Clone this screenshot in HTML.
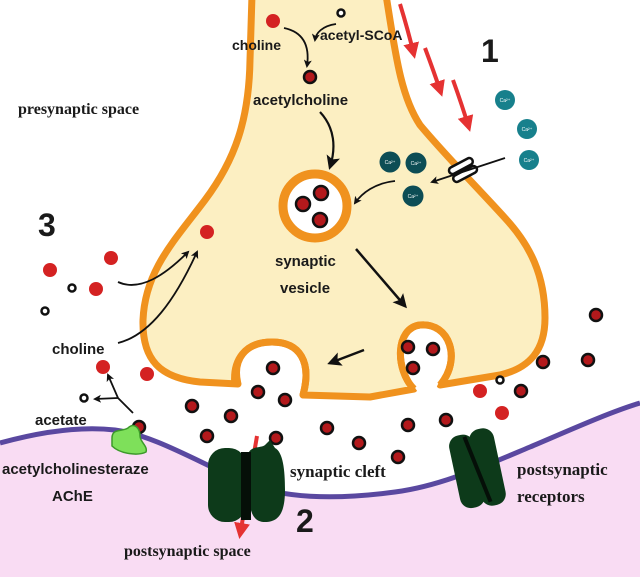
<!DOCTYPE html>
<html><head><meta charset="utf-8"><style>
html,body{margin:0;padding:0;background:#fff}
svg{display:block}
.s{font-family:"Liberation Sans",sans-serif;font-weight:bold;fill:#1a1a1a}
.r{font-family:"Liberation Serif",serif;font-weight:bold;fill:#1a1a1a}
</style></head><body>
<svg width="640" height="577" viewBox="0 0 640 577" xmlns="http://www.w3.org/2000/svg">
<defs>
<marker id="ah" markerWidth="8" markerHeight="8" refX="6" refY="4" orient="auto" markerUnits="userSpaceOnUse"><path d="M0,0 L8,4 L0,8 L2,4 Z" fill="#111"/></marker>
<marker id="ahb" markerWidth="14" markerHeight="14" refX="11" refY="7" orient="auto" markerUnits="userSpaceOnUse"><path d="M0,0 L14,7 L0,14 L3,7 Z" fill="#111"/></marker>
<marker id="ahr" markerWidth="16" markerHeight="16" refX="12" refY="8" orient="auto" markerUnits="userSpaceOnUse"><path d="M0,0 L16,8 L0,16 Z" fill="#e53232"/></marker>
</defs>
<rect width="640" height="577" fill="#fff"/>
<path d="M0,443 C40,432 80,426 115,430 C160,436 210,470 260,488 C300,500 350,498 395,492 C440,486 480,468 530,447 C570,430 610,412 640,403 L640,577 L0,577 Z" fill="#f9dcf3"/>
<path d="M0,443 C40,432 80,426 115,430 C160,436 210,470 260,488 C300,500 350,498 395,492 C440,486 480,468 530,447 C570,430 610,412 640,403" fill="none" stroke="#5a48a0" stroke-width="5"/>
<path d="M252,-5 L250,60 C249,120 235,160 205,200 C175,240 145,270 143,320 C142,360 160,378 200,382 L238,384 C232,360 245,342 272,342 C300,342 312,362 303,395 L370,397 L414,389 C395,370 395,328 420,325 C450,322 462,360 440,385 L500,375 C530,368 545,350 545,318 C545,275 530,245 505,218 C475,185 445,155 420,125 C400,95 395,50 386,-5 Z" fill="#fcefc2" stroke="#f0921e" stroke-width="7" stroke-linejoin="round"/>
<path d="M250,398 C242,380 248,352 272,350 C296,350 305,375 298,398 Z" fill="#fff"/>
<path d="M418,392 C402,372 404,334 421,333 C440,333 452,360 436,388 Z" fill="#fff"/>
<path d="M235,386 C232,360 245,342 272,342 C300,342 312,362 303,395" fill="none" stroke="#f0921e" stroke-width="7"/>
<path d="M414,389 C395,370 395,328 420,325 C450,322 462,360 440,385" fill="none" stroke="#f0921e" stroke-width="7"/>
<circle cx="315" cy="206" r="32" fill="#fff" stroke="#f0921e" stroke-width="9"/>
<g fill="#b3191c" stroke="#111" stroke-width="2.5">
<circle cx="303" cy="204" r="7"/><circle cx="321" cy="193" r="7"/><circle cx="320" cy="220" r="7"/>
<circle cx="310" cy="77" r="6"/>
<circle cx="273" cy="368" r="6"/><circle cx="258" cy="392" r="6"/><circle cx="285" cy="400" r="6"/>
<circle cx="192" cy="406" r="6"/><circle cx="231" cy="416" r="6"/><circle cx="207" cy="436" r="6"/><circle cx="276" cy="438" r="6"/>
<circle cx="327" cy="428" r="6"/><circle cx="359" cy="443" r="6"/><circle cx="398" cy="457" r="6"/><circle cx="408" cy="425" r="6"/><circle cx="446" cy="420" r="6"/>
<circle cx="408" cy="347" r="6"/><circle cx="433" cy="349" r="6"/><circle cx="413" cy="368" r="6"/>
<circle cx="543" cy="362" r="6"/><circle cx="521" cy="391" r="6"/><circle cx="596" cy="315" r="6"/><circle cx="588" cy="360" r="6"/>
<circle cx="139" cy="427" r="6"/>
</g>
<g fill="#d42222">
<circle cx="273" cy="21" r="7"/><circle cx="207" cy="232" r="7"/>
<circle cx="50" cy="270" r="7"/><circle cx="111" cy="258" r="7"/><circle cx="96" cy="289" r="7"/>
<circle cx="103" cy="367" r="7"/><circle cx="147" cy="374" r="7"/>
<circle cx="480" cy="391" r="7"/><circle cx="502" cy="413" r="7"/>
</g>
<g fill="#fff" stroke="#111" stroke-width="2.5">
<circle cx="341" cy="13" r="3.5"/><circle cx="72" cy="288" r="3.5"/><circle cx="45" cy="311" r="3.5"/><circle cx="84" cy="398" r="3.5"/><circle cx="500" cy="380" r="3.5"/>
</g>
<g font-family="Liberation Sans,sans-serif" font-size="5" fill="#fff" text-anchor="middle">
<circle cx="505" cy="100" r="10" fill="#17808c"/><text x="505" y="102">Ca²⁺</text>
<circle cx="527" cy="129" r="10" fill="#17808c"/><text x="527" y="131">Ca²⁺</text>
<circle cx="529" cy="160" r="10" fill="#17808c"/><text x="529" y="162">Ca²⁺</text>
<circle cx="390" cy="162" r="10.5" fill="#0d4d55"/><text x="390" y="164">Ca²⁺</text>
<circle cx="416" cy="163" r="10.5" fill="#0d4d55"/><text x="416" y="165">Ca²⁺</text>
<circle cx="413" cy="196" r="10.5" fill="#0d4d55"/><text x="413" y="198">Ca²⁺</text>
</g>
<g transform="translate(463,170) rotate(-28)">
<rect x="-13" y="-8" width="26" height="7" rx="3.5" fill="#fff" stroke="#111" stroke-width="2.5"/>
<rect x="-13" y="1" width="26" height="7" rx="3.5" fill="#fff" stroke="#111" stroke-width="2.5"/>
</g>
<g stroke="#e53232" stroke-width="4" fill="none" marker-end="url(#ahr)">
<path d="M400,4 Q408,30 414,55"/><path d="M425,48 Q434,72 441,93"/><path d="M453,80 Q462,105 469,128"/>
<path d="M257,436 L240,535"/>
</g>
<g stroke="#111" stroke-width="1.8" fill="none" marker-end="url(#ah)">
<path d="M284,28 C303,32 310,45 307,66"/>
<path d="M336,24 C322,26 316,33 315,40"/>
<path d="M320,112 C335,128 336,148 330,167" stroke-width="2.2" marker-end="url(#ahb)"/>
<path d="M395,181 C375,183 362,193 355,203"/>
<path d="M505,158 L432,182"/>
<path d="M356,249 L405,306" stroke-width="2.5" marker-end="url(#ahb)"/>
<path d="M364,350 L330,363" stroke-width="2.5" marker-end="url(#ahb)"/>
<path d="M118,282 C140,292 165,275 188,252"/>
<path d="M118,343 C150,335 175,300 197,252"/>
<path d="M133,413 L118,398 L108,375"/>
<path d="M118,398 L95,399"/>
</g>
<path d="M112,438 C112,428 122,432 128,428 C134,422 140,428 140,436 C140,442 148,446 146,452 C138,456 120,454 112,446 Z" fill="#7ee05a" stroke="#3c9a2a" stroke-width="1.5"/>
<rect x="208" y="448" width="38" height="74" rx="17" fill="#0d3a1a"/>
<path d="M249,452 C252,446 262,448 265,445 L270,440 L275,448 C283,452 285,470 285,490 C285,514 278,522 265,522 C252,522 249,510 249,490 Z" fill="#0d3a1a"/>
<rect x="241" y="452" width="10" height="68" fill="#050f08"/>
<g transform="translate(478,468) rotate(-12)">
<rect x="-24" y="-36" width="25" height="74" rx="11" fill="#0d3a1a"/>
<rect x="-3" y="-38" width="25" height="78" rx="11" fill="#0d3a1a"/>
<rect x="-3" y="-34" width="4" height="70" fill="#050f08" transform="rotate(-10)"/>
</g>
<text class="s" x="232" y="50" font-size="14">choline</text>
<text class="s" x="320" y="40" font-size="14">acetyl-SCoA</text>
<text class="s" x="253" y="105" font-size="15">acetylcholine</text>
<text class="r" x="18" y="114" font-size="16">presynaptic space</text>
<text class="s" x="481" y="62" font-size="32">1</text>
<text class="s" x="38" y="236" font-size="32">3</text>
<text class="s" x="275" y="266" font-size="15">synaptic</text>
<text class="s" x="280" y="293" font-size="15">vesicle</text>
<text class="s" x="52" y="354" font-size="15">choline</text>
<text class="s" x="35" y="425" font-size="15">acetate</text>
<text class="s" x="2" y="474" font-size="15">acetylcholinesteraze</text>
<text class="s" x="52" y="501" font-size="15">AChE</text>
<text class="r" x="290" y="477" font-size="17">synaptic cleft</text>
<text class="r" x="517" y="475" font-size="17">postsynaptic</text>
<text class="r" x="517" y="502" font-size="17">receptors</text>
<text class="s" x="296" y="532" font-size="32">2</text>
<text class="r" x="124" y="556" font-size="16">postsynaptic space</text>
</svg>
</body></html>
